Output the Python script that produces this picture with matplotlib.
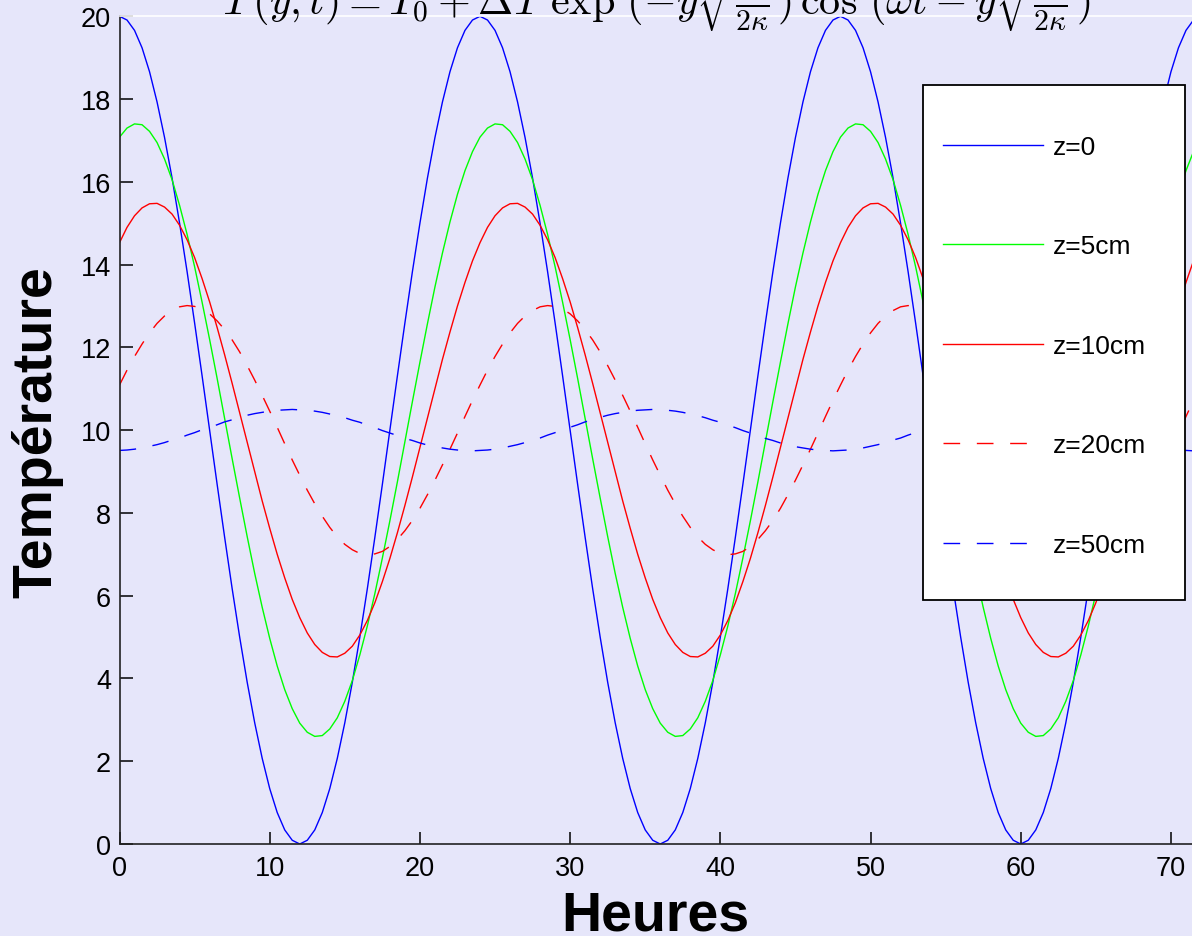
import matplotlib
matplotlib.use("Agg")
import matplotlib.pyplot as plt
import numpy as np
from matplotlib.patches import Rectangle

# ---- data (half-hourly readings, t = 0..72 h) ----
hours = np.arange(0, 72.5, 0.5)

t_z0 = [
    20.0, 19.91, 19.66, 19.24, 18.66, 17.93, 17.07, 16.09, 15.0, 13.83, 12.59, 11.31,
    10.0, 8.69, 7.41, 6.17, 5.0, 3.91, 2.93, 2.07, 1.34, 0.76, 0.34, 0.09,
    0.0, 0.09, 0.34, 0.76, 1.34, 2.07, 2.93, 3.91, 5.0, 6.17, 7.41, 8.69,
    10.0, 11.31, 12.59, 13.83, 15.0, 16.09, 17.07, 17.93, 18.66, 19.24, 19.66, 19.91,
    20.0, 19.91, 19.66, 19.24, 18.66, 17.93, 17.07, 16.09, 15.0, 13.83, 12.59, 11.31,
    10.0, 8.69, 7.41, 6.17, 5.0, 3.91, 2.93, 2.07, 1.34, 0.76, 0.34, 0.09,
    0.0, 0.09, 0.34, 0.76, 1.34, 2.07, 2.93, 3.91, 5.0, 6.17, 7.41, 8.69,
    10.0, 11.31, 12.59, 13.83, 15.0, 16.09, 17.07, 17.93, 18.66, 19.24, 19.66, 19.91,
    20.0, 19.91, 19.66, 19.24, 18.66, 17.93, 17.07, 16.09, 15.0, 13.83, 12.59, 11.31,
    10.0, 8.69, 7.41, 6.17, 5.0, 3.91, 2.93, 2.07, 1.34, 0.76, 0.34, 0.09,
    0.0, 0.09, 0.34, 0.76, 1.34, 2.07, 2.93, 3.91, 5.0, 6.17, 7.41, 8.69,
    10.0, 11.31, 12.59, 13.83, 15.0, 16.09, 17.07, 17.93, 18.66, 19.24, 19.66, 19.91,
    20.0]

t_z5 = [
    17.08, 17.30, 17.40, 17.38, 17.22, 16.95, 16.55, 16.05, 15.43, 14.73, 13.95, 13.09,
    12.19, 11.25, 10.28, 9.31, 8.36, 7.43, 6.54, 5.72, 4.97, 4.30, 3.73, 3.27,
    2.92, 2.70, 2.60, 2.62, 2.78, 3.05, 3.45, 3.95, 4.57, 5.27, 6.05, 6.91,
    7.81, 8.75, 9.72, 10.69, 11.64, 12.57, 13.46, 14.28, 15.03, 15.70, 16.27, 16.73,
    17.08, 17.30, 17.40, 17.38, 17.22, 16.95, 16.55, 16.05, 15.43, 14.73, 13.95, 13.09,
    12.19, 11.25, 10.28, 9.31, 8.36, 7.43, 6.54, 5.72, 4.97, 4.30, 3.73, 3.27,
    2.92, 2.70, 2.60, 2.62, 2.78, 3.05, 3.45, 3.95, 4.57, 5.27, 6.05, 6.91,
    7.81, 8.75, 9.72, 10.69, 11.64, 12.57, 13.46, 14.28, 15.03, 15.70, 16.27, 16.73,
    17.08, 17.30, 17.40, 17.38, 17.22, 16.95, 16.55, 16.05, 15.43, 14.73, 13.95, 13.09,
    12.19, 11.25, 10.28, 9.31, 8.36, 7.43, 6.54, 5.72, 4.97, 4.30, 3.73, 3.27,
    2.92, 2.70, 2.60, 2.62, 2.78, 3.05, 3.45, 3.95, 4.57, 5.27, 6.05, 6.91,
    7.81, 8.75, 9.72, 10.69, 11.64, 12.57, 13.46, 14.28, 15.03, 15.70, 16.27, 16.73,
    17.08]

t_z10 = [
    14.53, 14.90, 15.18, 15.37, 15.47, 15.48, 15.39, 15.22, 14.95, 14.60, 14.17, 13.66,
    13.10, 12.48, 11.82, 11.13, 10.42, 9.70, 8.99, 8.29, 7.63, 7.00, 6.43, 5.91,
    5.47, 5.10, 4.82, 4.63, 4.53, 4.52, 4.61, 4.78, 5.05, 5.40, 5.83, 6.34,
    6.90, 7.52, 8.18, 8.87, 9.58, 10.30, 11.01, 11.71, 12.37, 13.00, 13.57, 14.09,
    14.53, 14.90, 15.18, 15.37, 15.47, 15.48, 15.39, 15.22, 14.95, 14.60, 14.17, 13.66,
    13.10, 12.48, 11.82, 11.13, 10.42, 9.70, 8.99, 8.29, 7.63, 7.00, 6.43, 5.91,
    5.47, 5.10, 4.82, 4.63, 4.53, 4.52, 4.61, 4.78, 5.05, 5.40, 5.83, 6.34,
    6.90, 7.52, 8.18, 8.87, 9.58, 10.30, 11.01, 11.71, 12.37, 13.00, 13.57, 14.09,
    14.53, 14.90, 15.18, 15.37, 15.47, 15.48, 15.39, 15.22, 14.95, 14.60, 14.17, 13.66,
    13.10, 12.48, 11.82, 11.13, 10.42, 9.70, 8.99, 8.29, 7.63, 7.00, 6.43, 5.91,
    5.47, 5.10, 4.82, 4.63, 4.53, 4.52, 4.61, 4.78, 5.05, 5.40, 5.83, 6.34,
    6.90, 7.52, 8.18, 8.87, 9.58, 10.30, 11.01, 11.71, 12.37, 13.00, 13.57, 14.09,
    14.53]

t_z20 = [
    11.09, 11.45, 11.78, 12.08, 12.35, 12.58, 12.76, 12.89, 12.98, 13.01, 12.99, 12.93,
    12.81, 12.64, 12.43, 12.18, 11.89, 11.56, 11.21, 10.84, 10.46, 10.07, 9.67, 9.28,
    8.91, 8.55, 8.22, 7.92, 7.65, 7.42, 7.24, 7.11, 7.02, 6.99, 7.01, 7.07,
    7.19, 7.36, 7.57, 7.82, 8.11, 8.44, 8.79, 9.16, 9.54, 9.93, 10.33, 10.72,
    11.09, 11.45, 11.78, 12.08, 12.35, 12.58, 12.76, 12.89, 12.98, 13.01, 12.99, 12.93,
    12.81, 12.64, 12.43, 12.18, 11.89, 11.56, 11.21, 10.84, 10.46, 10.07, 9.67, 9.28,
    8.91, 8.55, 8.22, 7.92, 7.65, 7.42, 7.24, 7.11, 7.02, 6.99, 7.01, 7.07,
    7.19, 7.36, 7.57, 7.82, 8.11, 8.44, 8.79, 9.16, 9.54, 9.93, 10.33, 10.72,
    11.09, 11.45, 11.78, 12.08, 12.35, 12.58, 12.76, 12.89, 12.98, 13.01, 12.99, 12.93,
    12.81, 12.64, 12.43, 12.18, 11.89, 11.56, 11.21, 10.84, 10.46, 10.07, 9.67, 9.28,
    8.91, 8.55, 8.22, 7.92, 7.65, 7.42, 7.24, 7.11, 7.02, 6.99, 7.01, 7.07,
    7.19, 7.36, 7.57, 7.82, 8.11, 8.44, 8.79, 9.16, 9.54, 9.93, 10.33, 10.72,
    11.09]

t_z50 = [
    9.51, 9.52, 9.54, 9.57, 9.61, 9.65, 9.70, 9.76, 9.81, 9.88, 9.94, 10.01,
    10.07, 10.13, 10.20, 10.25, 10.31, 10.36, 10.40, 10.43, 10.46, 10.48, 10.49, 10.50,
    10.49, 10.48, 10.46, 10.43, 10.39, 10.35, 10.30, 10.24, 10.19, 10.12, 10.06, 9.99,
    9.93, 9.87, 9.80, 9.75, 9.69, 9.64, 9.60, 9.57, 9.54, 9.52, 9.51, 9.50,
    9.51, 9.52, 9.54, 9.57, 9.61, 9.65, 9.70, 9.76, 9.81, 9.88, 9.94, 10.01,
    10.07, 10.13, 10.20, 10.25, 10.31, 10.36, 10.40, 10.43, 10.46, 10.48, 10.49, 10.50,
    10.49, 10.48, 10.46, 10.43, 10.39, 10.35, 10.30, 10.24, 10.19, 10.12, 10.06, 9.99,
    9.93, 9.87, 9.80, 9.75, 9.69, 9.64, 9.60, 9.57, 9.54, 9.52, 9.51, 9.50,
    9.51, 9.52, 9.54, 9.57, 9.61, 9.65, 9.70, 9.76, 9.81, 9.88, 9.94, 10.01,
    10.07, 10.13, 10.20, 10.25, 10.31, 10.36, 10.40, 10.43, 10.46, 10.48, 10.49, 10.50,
    10.49, 10.48, 10.46, 10.43, 10.39, 10.35, 10.30, 10.24, 10.19, 10.12, 10.06, 9.99,
    9.93, 9.87, 9.80, 9.75, 9.69, 9.64, 9.60, 9.57, 9.54, 9.52, 9.51, 9.50,
    9.51]

labels = ["z=0", "z=5cm", "z=10cm", "z=20cm", "z=50cm"]
x_ticks = [0, 10, 20, 30, 40, 50, 60, 70]
y_ticks = [0, 2, 4, 6, 8, 10, 12, 14, 16, 18, 20]

# ---- figure ----
W, H = 1192, 937
BG = "#E6E6FA"
plt.rcParams["font.family"] = ["Liberation Sans", "DejaVu Sans"]
plt.rcParams["mathtext.fontset"] = "cm"

fig = plt.figure(figsize=(W / 100, H / 100), dpi=100, facecolor=BG)
x0, x1 = 119.5, 1201.0
y_top, y_bot = 17.3, 845.0
ax = fig.add_axes([x0 / W, 1 - y_bot / H, (x1 - x0) / W, (y_bot - y_top) / H])
ax.set_facecolor(BG)

dash = (0, (12, 12))
ax.plot(hours, t_z0, color=(0, 0, 1), lw=1.0, label=labels[0])
ax.plot(hours, t_z5, color=(0, 1, 0), lw=1.0, label=labels[1])
ax.plot(hours, t_z10, color=(1, 0, 0), lw=1.0, label=labels[2])
ax.plot(hours, t_z20, color=(1, 0, 0), lw=1.0, ls=dash, label=labels[3])
ax.plot(hours, t_z50, color=(0, 0, 1), lw=1.0, ls=dash, label=labels[4])

ax.set_xlim(0, 72)
ax.set_ylim(0, 20)
ax.set_xticks(x_ticks)
ax.set_yticks(y_ticks)
ax.tick_params(direction="in", length=9, width=1.1, labelsize=19.5, colors="black")
ax.tick_params(axis="x", pad=8)
ax.tick_params(axis="y", pad=6)
for s in ("left", "bottom"):
    ax.spines[s].set_linewidth(1.2)
    ax.spines[s].set_color("#222222")
ax.spines["top"].set_color("white")
ax.spines["top"].set_linewidth(1.2)
ax.spines["right"].set_visible(False)

fig.text(655 / W, 1 - 931 / H, "Heures", ha="center", va="baseline",
         fontsize=40, fontweight="bold")
fig.text(37 / W, 1 - 432 / H, "Température", ha="center", va="center",
         rotation=90, fontsize=40, fontweight="bold")

title = (r"$T\,(y,t) = T_0 + \Delta T\ \exp\,(-y\sqrt{\frac{\omega}{2\kappa}})"
         r"\,\cos\,(\omega t - y\sqrt{\frac{\omega}{2\kappa}})$")
fig.text(656 / W, 1 - 15 / H, title, ha="center", va="baseline", fontsize=30.4)

# legend box
fig.add_artist(Rectangle((923 / W, 1 - 601 / H), (1185 - 923) / W, (601 - 86) / H,
                         transform=fig.transFigure, facecolor="white",
                         edgecolor="black", lw=1.3, zorder=3))
handles, labs = ax.get_legend_handles_labels()
leg = fig.legend(handles, labs, loc="upper left",
                 bbox_to_anchor=(943 / W, 1 - 136 / H), bbox_transform=fig.transFigure,
                 frameon=False, borderpad=0, borderaxespad=0, fontsize=19,
                 handlelength=3.79, handletextpad=0.38, labelspacing=2.86)
leg.set_zorder(4)

fig.savefig("out.png", dpi=100, facecolor=BG)
